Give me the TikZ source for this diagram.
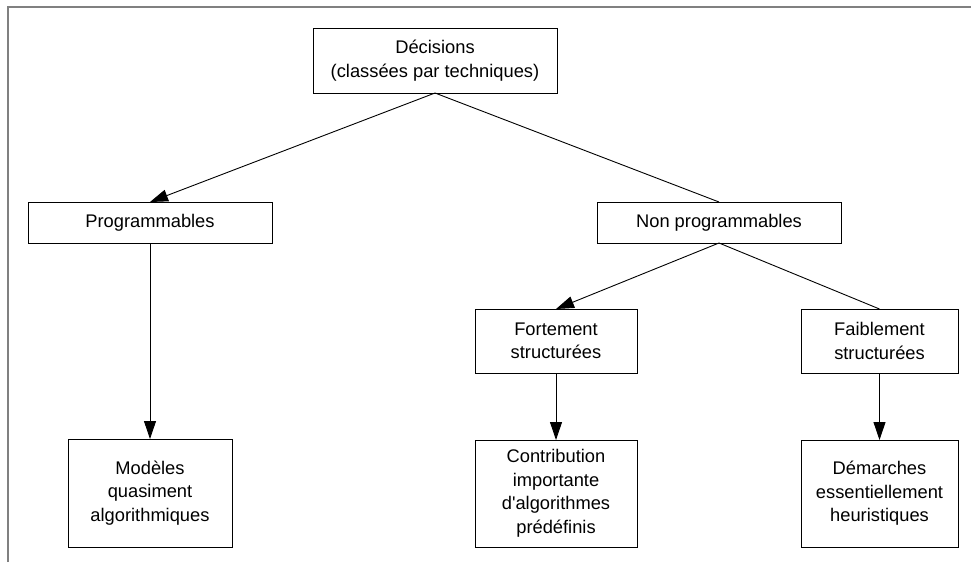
\documentclass[tikz,border=0pt]{standalone}
\usepackage{fontspec}
\setmainfont{Liberation Sans}
\newfontfamily\arialf{Liberation Sans}
\usetikzlibrary{arrows.meta}
\begin{document}
\begin{tikzpicture}[x=1pt,y=-1pt,
  box/.style={draw, line width=1pt, inner sep=0pt, outer sep=0pt, align=center,
    font=\arialf\fontsize{18.3}{23.5}\selectfont, anchor=north west},
  arr/.style={line width=0.9pt, -{Triangle[length=18pt,width=12pt]}},
  ln/.style={line width=0.9pt},
  frame/.style={draw=black!50, line width=2pt}]
\useasboundingbox (0,0) rectangle (971,562);
\draw[frame] (8,562) -- (8,7) -- (971,7);
\node[box, minimum width=244pt, minimum height=65pt] (dec) at (313,28) {Décisions\\(classées par techniques)};
\node[box, minimum width=244pt, minimum height=41pt] (prog) at (28,202) {Programmables};
\node[box, minimum width=244pt, minimum height=41pt] (nonp) at (597,202) {Non programmables};
\node[box, minimum width=162pt, minimum height=64pt] (fort) at (475,309) {Fortement\\structurées};
\node[box, minimum width=157pt, minimum height=64pt] (faib) at (801,309) {Faiblement\\structurées};
\node[box, minimum width=164pt, minimum height=108pt] (mod) at (68,439) {Modèles\\quasiment\\algorithmiques};
\node[box, minimum width=162pt, minimum height=107pt] (contr) at (475,440) {Contribution\\importante\\d'algorithmes\\prédéfinis};
\node[box, minimum width=157pt, minimum height=107pt] (dem) at (801,440) {Démarches\\essentiellement\\heuristiques};
\draw[arr] (dec.south) -- (prog.north);
\draw[ln] (dec.south) -- (nonp.north);
\draw[arr] (nonp.south) -- (fort.north);
\draw[ln] (nonp.south) -- (faib.north);
\draw[arr] (prog.south) -- (mod.north);
\draw[arr] (fort.south) -- (contr.north);
\draw[arr] (faib.south) -- (dem.north);
\end{tikzpicture}
\end{document}
